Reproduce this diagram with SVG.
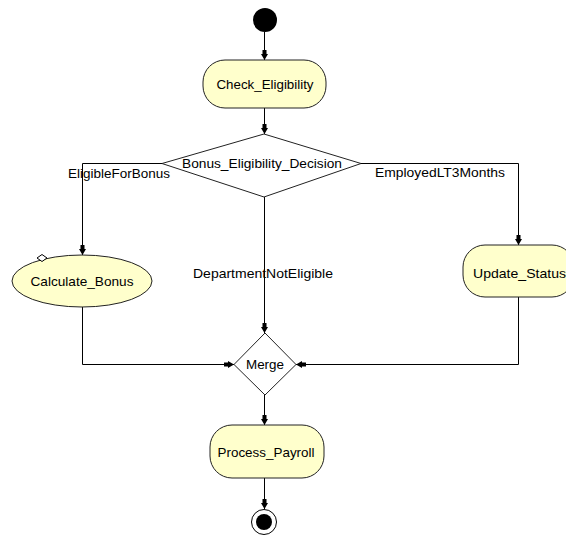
<svg xmlns="http://www.w3.org/2000/svg" width="566" height="535" viewBox="0 0 566 535">
<style>
.node{fill:#ffffcc;stroke:#222;stroke-width:1}
.dec{fill:#fff;stroke:#222;stroke-width:1}
.t{font-family:"Liberation Sans",Arial,sans-serif;font-size:13px;fill:#000}
.c{text-anchor:middle}
.edge{fill:none;stroke:#000;stroke-width:1}
</style>
<defs>
<marker id="ah" markerUnits="userSpaceOnUse" markerWidth="10" markerHeight="8" viewBox="0 0 10 8" refX="10" refY="4" orient="auto">
<path d="M0,2 L4,2 L4,0.5 L10,4 L4,7.5 L4,6 L0,6 Z" fill="#000"/>
</marker>
</defs>
<rect width="566" height="535" fill="#fff"/>
<g id="connectors">
<path class="edge" d="M264.5,32 V60" marker-end="url(#ah)"/>
<path class="edge" d="M264.5,108 V134" marker-end="url(#ah)"/>
<path class="edge" d="M162,163.5 H82.5 V255" marker-end="url(#ah)"/>
<path class="edge" d="M361,163.5 H518.5 V245" marker-end="url(#ah)"/>
<path class="edge" d="M264.5,197 V333" marker-end="url(#ah)"/>
<path class="edge" d="M82.5,307 V364.5 H234" marker-end="url(#ah)"/>
<path class="edge" d="M518.5,297 V364.5 H296" marker-end="url(#ah)"/>
<path class="edge" d="M264.5,395 V425" marker-end="url(#ah)"/>
<path class="edge" d="M264.5,478 V509" marker-end="url(#ah)"/>
<text class="t" x="68" y="178" textLength="102" lengthAdjust="spacingAndGlyphs">EligibleForBonus</text>
<text class="t" x="375" y="177" textLength="130" lengthAdjust="spacingAndGlyphs">EmployedLT3Months</text>
<text class="t" x="193" y="278" textLength="140" lengthAdjust="spacingAndGlyphs">DepartmentNotEligible</text>
</g>
<g id="start">
<circle cx="265" cy="20" r="12" fill="#000"/>
</g>
<g id="check_eligibility">
<rect class="node" x="203" y="60" width="123" height="48" rx="22"/>
<text class="t c" x="265" y="89" textLength="97" lengthAdjust="spacingAndGlyphs">Check_Eligibility</text>
</g>
<g id="bonus_eligibility_decision">
<polygon class="dec" points="264,134 361,163.5 264,197 162,163.5"/>
<text class="t" x="182" y="168" textLength="160" lengthAdjust="spacingAndGlyphs">Bonus_Eligibility_Decision</text>
</g>
<g id="calculate_bonus">
<ellipse class="node" cx="82" cy="281" rx="70" ry="26"/>
<polygon points="37,258 42,254.5 47,258 42,261.5" fill="#fff" stroke="#000" stroke-width="1"/>
<text class="t c" x="82" y="286" textLength="103" lengthAdjust="spacingAndGlyphs">Calculate_Bonus</text>
</g>
<g id="update_status">
<rect class="node" x="463" y="245" width="111" height="52" rx="22"/>
<text class="t" x="473" y="278" textLength="93" lengthAdjust="spacingAndGlyphs">Update_Status</text>
</g>
<g id="merge">
<polygon class="dec" points="265,333 296,364.5 265,395 234,364.5"/>
<text class="t c" x="265" y="369" textLength="38" lengthAdjust="spacingAndGlyphs">Merge</text>
</g>
<g id="process_payroll">
<rect class="node" x="210" y="425" width="114" height="53" rx="22"/>
<text class="t c" x="266" y="457" textLength="97" lengthAdjust="spacingAndGlyphs">Process_Payroll</text>
</g>
<g id="end">
<circle cx="264" cy="522" r="12.5" fill="#fff" stroke="#000" stroke-width="1"/>
<circle cx="264" cy="522" r="8" fill="#000"/>
</g>
</svg>
